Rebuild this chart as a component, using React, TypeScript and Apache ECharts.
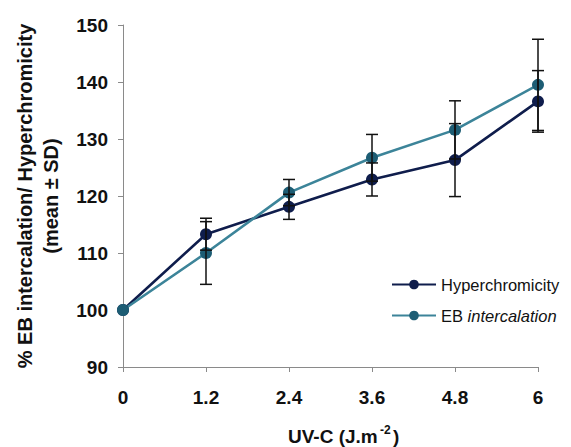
import React, { useEffect, useRef } from "react";
import * as echarts from "echarts";

const doses = ["0", "1.2", "2.4", "3.6", "4.8", "6"];
const hyperMean = [100, 113.3, 118.1, 122.9, 126.3, 136.6];
const hyperSD = [0, 2.8, 2.2, 2.9, 6.4, 5.4];
const ebMean = [100, 110.0, 120.6, 126.7, 131.6, 139.5];
const ebSD = [0, 5.5, 2.3, 4.1, 5.1, 8.0];
const yTicks = { min: 90, max: 150, interval: 10 };

const HYPER = "#0f1d4c";
const EB_LINE = "#3c8499";
const EB_MARK = "#1d5d74";
const FONT = "'Liberation Sans', Arial, sans-serif";

function errData(mean: number[], sd: number[]) {
  return mean
    .map((m, i) => [i, m - sd[i], m + sd[i], sd[i]])
    .filter((d) => d[3] > 0);
}

const renderErr = (params: any, api: any) => {
  const x = api.value(0);
  const lo = api.value(1);
  const hi = api.value(2);
  const p1 = api.coord([x, hi]);
  const p2 = api.coord([x, lo]);
  const w = 6;
  const style = { stroke: "#111", lineWidth: 1.5 };
  return {
    type: "group",
    children: [
      { type: "line", shape: { x1: p1[0], y1: p1[1], x2: p2[0], y2: p2[1] }, style },
      { type: "line", shape: { x1: p1[0] - w, y1: p1[1], x2: p1[0] + w, y2: p1[1] }, style },
      { type: "line", shape: { x1: p2[0] - w, y1: p2[1], x2: p2[0] + w, y2: p2[1] }, style },
    ],
  };
};

export default function App() {
  const ref = useRef<HTMLDivElement>(null);
  useEffect(() => {
    const chart = echarts.init(ref.current!, undefined, { renderer: "svg" });
    chart.setOption({
      animation: false,
      backgroundColor: "#fff",
      grid: { left: 123, right: 33, top: 25, bottom: 80 },
      xAxis: {
        type: "category",
        data: doses,
        boundaryGap: false,
        axisLine: { lineStyle: { color: "#8a8a8a", width: 1 } },
        axisTick: { show: true, length: 5, alignWithLabel: true, lineStyle: { color: "#8a8a8a" } },
        axisLabel: { color: "#111", fontSize: 19, fontWeight: "bold", fontFamily: FONT, margin: 21 },
        splitLine: { show: false },
      },
      yAxis: {
        type: "value",
        min: yTicks.min,
        max: yTicks.max,
        interval: yTicks.interval,
        axisLine: { show: true, lineStyle: { color: "#8a8a8a", width: 1 } },
        axisTick: { show: true, length: 5, lineStyle: { color: "#8a8a8a" } },
        axisLabel: { color: "#111", fontSize: 19, fontWeight: "bold", fontFamily: FONT, margin: 15 },
        splitLine: { show: false },
      },
      legend: {
        orient: "vertical",
        left: 386,
        top: 271,
        itemWidth: 44,
        itemHeight: 12,
        itemGap: 14,
        data: ["Hyperchromicity", "EB intercalation"],
        textStyle: {
          color: "#111",
          fontSize: 16.5,
          fontFamily: FONT,
          rich: {
            n: { fontSize: 16.5, fontFamily: FONT, color: "#111" },
            i: { fontSize: 16.5, fontFamily: FONT, color: "#111", fontStyle: "italic" },
          },
        },
        formatter: (name: string) =>
          name === "EB intercalation" ? "{n|EB }{i|intercalation}" : name,
      },
      graphic: [
        {
          type: "text",
          x: 25,
          y: 196,
          rotation: Math.PI / 2,
          style: {
            text: "% EB intercalation/ Hyperchromicity",
            fontSize: 20,
            fontWeight: "bold",
            fontFamily: FONT,
            fill: "#111",
            align: "center",
            verticalAlign: "middle",
          },
        },
        {
          type: "text",
          x: 51,
          y: 196,
          rotation: Math.PI / 2,
          style: {
            text: "(mean ± SD)",
            fontSize: 20,
            fontWeight: "bold",
            fontFamily: FONT,
            fill: "#111",
            align: "center",
            verticalAlign: "middle",
          },
        },
        {
          type: "text",
          x: 288,
          y: 427,
          style: {
            text: "UV-C (J.m",
            fontSize: 19,
            fontWeight: "bold",
            fontFamily: FONT,
            fill: "#111",
            align: "left",
            verticalAlign: "top",
          },
        },
        {
          type: "text",
          x: 380,
          y: 424,
          style: {
            text: "-2",
            fontSize: 12,
            fontWeight: "bold",
            fontFamily: FONT,
            fill: "#111",
            align: "left",
            verticalAlign: "top",
          },
        },
        {
          type: "text",
          x: 393,
          y: 427,
          style: {
            text: ")",
            fontSize: 19,
            fontWeight: "bold",
            fontFamily: FONT,
            fill: "#111",
            align: "left",
            verticalAlign: "top",
          },
        },
      ],
      series: [
        {
          type: "custom",
          name: "errHyper",
          renderItem: renderErr,
          data: errData(hyperMean, hyperSD),
          encode: { x: 0, y: [1, 2] },
          z: 3,
          silent: true,
        },
        {
          type: "custom",
          name: "errEB",
          renderItem: renderErr,
          data: errData(ebMean, ebSD),
          encode: { x: 0, y: [1, 2] },
          z: 3,
          silent: true,
        },
        {
          type: "line",
          name: "Hyperchromicity",
          data: hyperMean,
          symbol: "circle",
          symbolSize: 12,
          lineStyle: { color: HYPER, width: 2.6 },
          itemStyle: { color: HYPER },
          z: 2,
        },
        {
          type: "line",
          name: "EB intercalation",
          data: ebMean,
          symbol: "circle",
          symbolSize: 12,
          lineStyle: { color: EB_LINE, width: 2.6 },
          itemStyle: { color: EB_MARK },
          z: 2,
        },
      ],
    });
    return () => chart.dispose();
  }, []);
  return (
    <div
      ref={ref}
      style={{ position: "fixed", left: 0, top: 0, width: 571, height: 447 }}
    />
  );
}
